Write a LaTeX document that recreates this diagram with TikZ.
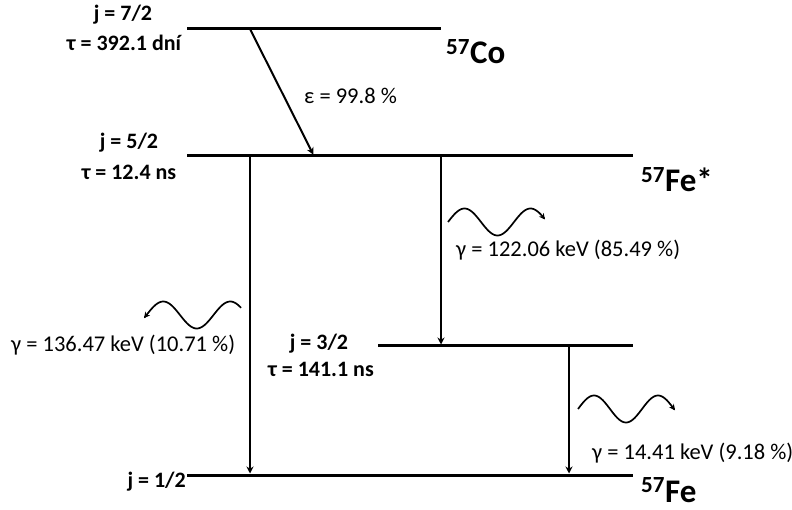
\documentclass[tikz,border=0pt]{standalone}
\usepackage{fontspec}
\setmainfont{Carlito}
\usetikzlibrary{arrows.meta}
\tikzset{
  levelline/.style={line width=3pt},
  trans/.style={line width=2pt,-{Stealth[length=7pt,width=7pt]},shorten >=1.5pt},
  wave/.style={line width=1.7pt,-{Stealth[length=6pt,width=6pt]}},
  lab/.style={font=\fontsize{22}{24}\selectfont\bfseries,inner sep=0pt,anchor=base},
  txt/.style={font=\fontsize{22.5}{24}\selectfont,inner sep=0pt,anchor=base west},
  iso/.style={font=\fontsize{33}{35}\selectfont\bfseries,inner sep=0pt,anchor=base west}
}
\begin{document}
\begin{tikzpicture}[x=1pt,y=-1pt]
\useasboundingbox (0,0) rectangle (792,510);
% level end points
\coordinate (coL) at (187,29);  \coordinate (coR) at (441,29);
\coordinate (f5L) at (187,156); \coordinate (f5R) at (633,156);
\coordinate (f3L) at (378,346); \coordinate (f3R) at (633,346);
\coordinate (f1L) at (187,475); \coordinate (f1R) at (633,475);
\draw[levelline] (coL) -- (coR);
\draw[levelline] (f5L) -- (f5R);
\draw[levelline] (f3L) -- (f3R);
\draw[levelline] (f1L) -- (f1R);
% transitions
\coordinate (eS) at (250,29); \coordinate (eE) at (314,156);
\draw[trans] (eS) -- (eE);
\coordinate (gA) at (250,156); \draw[trans] (gA) -- (gA |- f1L);
\coordinate (gB) at (441,156); \draw[trans] (gB) -- (gB |- f3L);
\coordinate (gC) at (569,346); \draw[trans] (gC) -- (gC |- f1L);
% photons
\draw[wave] plot[domain=0:97,samples=80,smooth] ({448+\x},{222-13.5*sin(\x/66*360)});
\draw[wave] plot[domain=0:97,samples=80,smooth] ({578+\x},{409-13.5*sin(\x/64*360)});
\draw[wave] plot[domain=0:97,samples=80,smooth] ({241-\x},{315-13.5*sin((\x+6)/67*360)});
% level labels
\node[lab] (j7) at (123,21) {j = 7/2};
\node[lab] (t7) at (124,51) {τ = 392.1 dní};
\node[lab] (j5) at (129,149) {j = 5/2};
\node[lab] (t5) at (129,180) {τ = 12.4 ns};
\node[lab] (j3) at (319,349) {j = 3/2};
\node[lab] (t3) at (321,376) {τ = 141.1 ns};
\node[lab,anchor=base east] (j1) at (186,487) {j = 1/2};
% isotopes
\node[iso] (co) at (446,64) {\textsuperscript{57}Co};
\node[iso] (fes) at (641,192) {\textsuperscript{57}Fe*};
\node[iso] (fe) at (641,502) {\textsuperscript{57}Fe};
% transition labels
\node[txt] (eps) at (304,104) {ε = 99.8 \%};
\node[txt] (gb) at (456,257) {γ = 122.06 keV (85.49 \%)};
\node[txt] (gc) at (592,459) {γ = 14.41 keV (9.18 \%)};
\node[txt] (ga) at (11,352) {γ = 136.47 keV (10.71 \%)};
\end{tikzpicture}
\end{document}
